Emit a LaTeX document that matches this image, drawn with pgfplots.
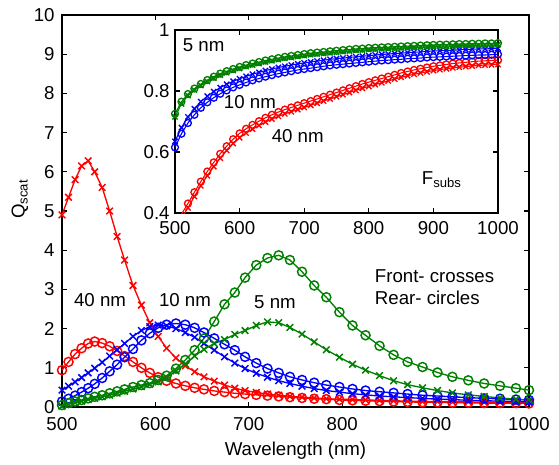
\documentclass[border=0pt]{standalone}
\usepackage{fontspec}
\setmainfont{Liberation Sans}
\usepackage{pgfplots}
\usepackage{pgfplotstable}
\pgfplotsset{compat=1.18}
\definecolor{mgreen}{RGB}{0,128,0}

% main plot: front (crosses) and rear (circles) scattering
\pgfplotstableread{
lam  rx    ro    bx    bo    gx    go
500  4.90  0.94  0.43  0.14  0.02  0.05
507  5.35  1.15  0.53  0.21  0.07  0.10
514  5.80  1.35  0.64  0.29  0.11  0.14
521  6.15  1.50  0.75  0.38  0.15  0.18
528  6.28  1.62  0.87  0.48  0.19  0.22
535  6.00  1.67  0.99  0.59  0.22  0.26
543  5.60  1.63  1.14  0.74  0.26  0.30
551  5.00  1.55  1.30  0.91  0.30  0.35
559  4.35  1.43  1.46  1.08  0.35  0.40
567  3.75  1.30  1.62  1.27  0.40  0.45
576  3.10  1.15  1.80  1.48  0.46  0.51
585  2.60  1.00  1.95  1.70  0.52  0.56
594  2.15  0.87  2.05  1.88  0.58  0.61
603  1.80  0.76  2.09  2.02  0.64  0.69
612  1.50  0.67  2.07  2.10  0.75  0.80
622  1.25  0.60  2.00  2.13  0.92  0.98
632  1.05  0.54  1.90  2.10  1.10  1.20
642  0.90  0.49  1.78  2.02  1.30  1.45
652  0.77  0.45  1.62  1.90  1.47  1.75
663  0.66  0.41  1.45  1.75  1.62  2.18
674  0.56  0.38  1.28  1.60  1.72  2.62
685  0.48  0.35  1.12  1.45  1.85  2.92
696  0.42  0.33  0.98  1.28  1.95  3.30
708  0.37  0.31  0.86  1.12  2.08  3.62
720  0.33  0.29  0.76  0.98  2.17  3.80
732  0.30  0.27  0.67  0.87  2.15  3.87
744  0.27  0.25  0.60  0.77  2.03  3.75
757  0.25  0.23  0.53  0.69  1.86  3.45
770  0.23  0.21  0.47  0.62  1.66  3.10
783  0.21  0.20  0.42  0.56  1.46  2.80
797  0.20  0.18  0.38  0.51  1.27  2.42
811  0.19  0.17  0.34  0.46  1.09  2.08
825  0.18  0.16  0.31  0.42  0.94  1.83
840  0.17  0.15  0.28  0.39  0.80  1.56
855  0.16  0.14  0.26  0.36  0.67  1.33
870  0.15  0.13  0.24  0.33  0.57  1.15
886  0.14  0.12  0.22  0.30  0.49  1.02
902  0.14  0.12  0.20  0.28  0.42  0.88
918  0.13  0.11  0.19  0.26  0.36  0.77
935  0.13  0.11  0.17  0.24  0.31  0.68
952  0.12  0.10  0.16  0.22  0.27  0.60
969  0.12  0.10  0.15  0.21  0.23  0.54
986  0.11  0.10  0.14  0.19  0.20  0.48
1000 0.11  0.09  0.13  0.18  0.18  0.43
}\mainT

% inset: F_subs
\pgfplotstableread{
lam  gx   go   bx   bo   rx   ro
500 .715 .725 .635 .615 .345 .360
510 .758 .765 .680 .660 .382 .396
520 .785 .790 .715 .695 .417 .431
530 .803 .808 .742 .722 .454 .468
540 .818 .823 .765 .745 .489 .503
550 .831 .836 .783 .763 .522 .536
560 .842 .847 .798 .778 .552 .566
570 .852 .857 .811 .791 .580 .594
580 .860 .865 .822 .802 .605 .619
590 .867 .872 .832 .812 .628 .642
600 .874 .879 .840 .820 .647 .661
610 .880 .885 .848 .828 .662 .676
620 .885 .890 .855 .835 .675 .689
630 .890 .895 .861 .841 .687 .701
640 .895 .900 .867 .847 .698 .712
650 .899 .904 .872 .852 .708 .722
660 .903 .908 .877 .857 .717 .731
670 .907 .912 .881 .861 .725 .739
680 .910 .915 .885 .865 .732 .746
690 .913 .918 .889 .869 .739 .753
700 .916 .921 .892 .872 .746 .760
710 .919 .924 .895 .875 .753 .767
720 .921 .926 .898 .878 .760 .774
730 .923 .928 .901 .881 .767 .781
740 .925 .930 .904 .884 .774 .788
750 .927 .932 .906 .886 .781 .795
760 .929 .934 .908 .888 .788 .802
770 .931 .936 .910 .890 .795 .809
780 .933 .938 .912 .892 .802 .816
790 .934 .939 .914 .894 .809 .823
800 .936 .941 .916 .896 .815 .829
810 .937 .942 .918 .898 .821 .835
820 .938 .943 .920 .900 .827 .841
830 .939 .944 .921 .901 .833 .847
840 .940 .945 .923 .903 .839 .853
850 .941 .946 .924 .904 .845 .859
860 .942 .947 .926 .906 .850 .864
870 .943 .948 .927 .907 .855 .869
880 .944 .949 .928 .908 .859 .873
890 .945 .950 .930 .910 .863 .877
900 .946 .951 .931 .911 .867 .881
910 .947 .952 .932 .912 .870 .884
920 .947 .952 .933 .913 .873 .887
930 .948 .953 .934 .914 .876 .890
940 .949 .954 .935 .915 .878 .892
950 .949 .954 .936 .916 .880 .894
960 .950 .955 .937 .917 .882 .896
970 .950 .955 .938 .918 .884 .898
980 .951 .956 .938 .918 .885 .899
990 .951 .956 .939 .919 .886 .900
1000 .952 .957 .940 .920 .887 .901
}\insetT

\pgfplotsset{
  mstyle/.style={
    scale only axis,
    axis line style={line width=0.9pt},
    major tick style={line width=0.8pt, black},
    major tick length=4pt,
    scaled ticks=false,
    /pgf/number format/1000 sep={},
    /pgf/number format/assume math mode=true,
  },
  cross/.style={line width=1pt, mark=x, mark size=3.5pt, mark options={line width=1.1pt}},
  circ/.style={line width=1pt, mark=o, mark size=3.4pt, mark options={line width=1.1pt}},
  icross/.style={line width=0.8pt, mark=x, mark size=2.8pt, mark options={line width=1pt}},
  icirc/.style={line width=0.8pt, mark=o, mark size=2.6pt, mark options={line width=1pt}},
}

\begin{document}
\begin{tikzpicture}[font=\fontsize{14}{16}\selectfont]
\useasboundingbox (-46.5pt,-42.75pt) rectangle (372.75pt,305.25pt);
\begin{axis}[
  mstyle,
  width=350.25pt, height=294pt,
  xmin=500, xmax=1000, ymin=0, ymax=10,
  xtick={500,600,...,1000}, ytick={0,1,...,10},
  xticklabel style={yshift=-4.5pt},
  yticklabel style={xshift=-2pt},
  xlabel={Wavelength (nm)},
  ylabel={Q\textsubscript{scat}},
  xlabel style={at={(axis description cs:0.5,-0.112)}, anchor=center},
  ylabel style={at={(axis description cs:-0.09,0.53)}, anchor=center},
  clip=false,
]
\addplot[red, cross] table[x=lam, y=rx] {\mainT};
\addplot[red, circ] table[x=lam, y=ro] {\mainT};
\addplot[blue, cross] table[x=lam, y=bx] {\mainT};
\addplot[blue, circ] table[x=lam, y=bo] {\mainT};
\addplot[mgreen, cross] table[x=lam, y=gx] {\mainT};
\addplot[mgreen, circ] table[x=lam, y=go] {\mainT};
\node at (axis cs:540.7,2.73) {40 nm};
\node at (axis cs:631.7,2.73) {10 nm};
\node at (axis cs:728,2.68) {5 nm};
\node[anchor=west] at (axis cs:830,3.34) {Front- crosses};
\node[anchor=west] at (axis cs:830,2.78) {Rear- circles};
\end{axis}
\begin{axis}[
  mstyle,
  at={(84.75pt,145.5pt)}, anchor=south west,
  width=242.25pt, height=137.25pt,
  xmin=500, xmax=1000, ymin=0.4, ymax=1,
  xtick={500,600,...,1000}, ytick={0.4,0.6,0.8,1},
  xticklabel style={yshift=-2.5pt},
  yticklabel style={xshift=-0.5pt},
  axis background/.style={fill=white},
]
\addplot[red, icross] table[x=lam, y=rx] {\insetT};
\addplot[red, icirc] table[x=lam, y=ro] {\insetT};
\addplot[blue, icross] table[x=lam, y=bx] {\insetT};
\addplot[blue, icirc] table[x=lam, y=bo] {\insetT};
\addplot[mgreen, icross] table[x=lam, y=gx] {\insetT};
\addplot[mgreen, icirc] table[x=lam, y=go] {\insetT};
\node[anchor=west] at (axis cs:505,0.951) {5 nm};
\node at (axis cs:616,0.764) {10 nm};
\node at (axis cs:690,0.652) {40 nm};
\node[anchor=base west] at (axis cs:875,0.492) {F\textsubscript{subs}};
\end{axis}
\end{tikzpicture}
\end{document}
